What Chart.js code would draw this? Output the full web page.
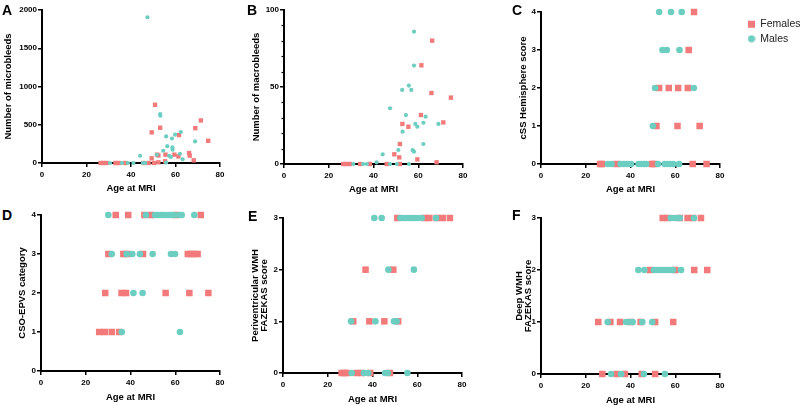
<!DOCTYPE html>
<html><head><meta charset="utf-8">
<script src="https://cdn.jsdelivr.net/npm/chart.js@4.4.0/dist/chart.umd.min.js"></script>
<style>
html,body{margin:0;padding:0;background:#fff;}
#wrap{position:relative;width:800px;height:405px;overflow:hidden;background:#fff;}
canvas{position:absolute;}
.lbl{position:absolute;font:bold 14px 'Liberation Sans',Arial,sans-serif;color:#000;line-height:1;}
</style></head><body>
<div id="wrap">
<canvas id="cA"></canvas><canvas id="cB"></canvas><canvas id="cC"></canvas>
<canvas id="cD"></canvas><canvas id="cE"></canvas><canvas id="cF"></canvas>
<canvas id="cL"></canvas>
<div class="lbl" style="left:2px;top:3px">A</div>
<div class="lbl" style="left:247px;top:3px">B</div>
<div class="lbl" style="left:512px;top:3px">C</div>
<div class="lbl" style="left:2px;top:208px">D</div>
<div class="lbl" style="left:248px;top:209px">E</div>
<div class="lbl" style="left:512px;top:208px">F</div>
</div>
<script>
// ---------- data ----------
const seriesNames = ['Females', 'Males'];
const xTicks = [0, 20, 40, 60, 80];
const xTitle = 'Age at MRI';

// A: microbleeds
const microTicks = [0, 500, 1000, 1500, 2000];
const microF = [[26.3,0],[27.5,0],[29.0,0],[33.0,0],[34.5,0],[37.4,0],[45.6,0],[47.9,0],[50.3,0],[52.3,9],[55.3,22],[49.3,61],[51.7,109],[52.3,99],[55.5,109],[59.5,109],[61.3,87],[66.1,130],[66.4,96],[68.2,35],[49.3,400],[53.1,461],[50.8,761],[61.6,365],[68.9,455],[71.4,556],[74.7,290]];
const microM = [[30.6,0],[35.9,0],[38.6,0],[41.1,0],[45.3,0],[46.3,0],[55.8,5],[44.1,95],[51.6,108],[54.5,160],[56.3,220],[57.2,92],[57.9,80],[58.6,204],[58.7,174],[62.0,121],[63.2,48],[55.8,347],[58.4,320],[59.8,370],[62.4,405],[53.1,640],[53.2,618],[47.4,1905],[68.8,282]];

// B: macrobleeds
const macroTicks = [0, 50, 100];
const macroMinor = [10, 20, 30, 40, 60, 70, 80, 90];
const macroF = [[26.5,0],[28.0,0],[29.5,0],[34.0,0],[38.4,0],[45.9,0],[51.8,0],[68.2,1.1],[59.6,3.0],[51.5,4.3],[49.3,6.3],[51.8,13.0],[52.9,26.0],[55.6,24.2],[61.2,31.8],[71.2,27.0],[74.6,43.1],[65.9,46.1],[61.4,64.1],[66.2,80.1]];
const macroM = [[31.0,0],[35.4,0],[37.0,0],[47.4,0],[50.4,0],[55.9,0],[41.4,1.1],[44.1,6.3],[51.1,9.1],[57.5,9.0],[58.1,8.0],[62.3,13.0],[53.0,21.0],[59.6,24.2],[58.7,26.0],[62.3,26.8],[69.0,26.0],[63.3,30.7],[54.5,31.8],[47.4,36.2],[52.8,48.1],[56.9,48.1],[55.8,50.9],[58.1,63.9],[58.1,85.9]];

// C: cSS hemisphere score
const cssTicks = [0, 1, 2, 3, 4];
const cssF = [[26.4,0],[27.3,0],[33.8,0],[49.5,0],[50.5,0],[67.8,0],[74.0,0],[51.6,1],[61.0,1],[70.9,1],[52.8,2],[57.1,2],[61.3,2],[65.6,2],[66.0,3],[68.4,4]];
const cssM = [[29.9,0],[31.5,0],[35.6,0],[37.1,0],[38.7,0],[40.3,0],[43.6,0],[44.8,0],[46.0,0],[47.0,0],[52.3,0],[55.3,0],[56.5,0],[57.8,0],[59.1,0],[61.7,0],[50.0,1],[51.0,2],[68.3,2],[54.3,3],[56.2,3],[61.9,3],[52.8,4],[58.1,4],[62.9,4]];

// D: CSO-EPVS category
const epvsTicks = [0, 1, 2, 3, 4];
const epvsF = [[26.0,1],[28.5,1],[31.6,1],[34.9,1],[28.7,2],[36.0,2],[38.0,2],[55.7,2],[66.3,2],[74.8,2],[30.1,3],[36.8,3],[38.6,3],[45.6,3],[65.6,3],[67.0,3],[68.5,3],[70.0,3],[33.4,4],[39.0,4],[46.2,4],[49.2,4],[60.3,4],[71.4,4]];
const epvsM = [[36.1,1],[62.1,1],[41.3,2],[45.4,2],[31.6,3],[38.3,3],[40.8,3],[44.2,3],[49.9,3],[58.1,3],[59.9,3],[30.1,4],[46.9,4],[51.0,4],[52.3,4],[53.5,4],[54.7,4],[55.8,4],[57.0,4],[58.2,4],[59.3,4],[61.6,4],[62.9,4],[68.5,4]];

// E: periventricular WMH Fazekas
const pvTicks = [0, 1, 2, 3];
const pvF = [[26.2,0],[27.5,0],[28.5,0],[32.9,0],[35.2,0],[39.0,0],[47.8,0],[31.4,1],[38.6,1],[45.3,1],[51.5,1],[36.9,2],[49.3,2],[51.1,3],[63.5,3],[65.4,3],[68.7,3],[71.4,3],[74.6,3]];
const pvM = [[30.7,0],[36.2,0],[38.1,0],[45.6,0],[46.8,0],[55.6,0],[30.4,1],[41.3,1],[49.6,1],[50.8,1],[47.1,2],[58.5,2],[40.8,3],[44.1,3],[52.5,3],[53.8,3],[55.1,3],[56.4,3],[57.7,3],[59.0,3],[60.3,3],[62.0,3],[68.4,3]];

// F: deep WMH Fazekas
const dwTicks = [0, 1, 2, 3];
const dwF = [[27.4,0],[33.8,0],[37.5,0],[45.0,0],[51.0,0],[25.6,1],[31.0,1],[35.3,1],[40.0,1],[44.5,1],[51.0,1],[59.1,1],[48.7,2],[60.0,2],[68.5,2],[74.3,2],[54.4,3],[56.5,3],[62.0,3],[65.5,3],[68.0,3],[71.5,3]];
const dwM = [[31.3,0],[35.8,0],[46.0,0],[55.4,0],[29.8,1],[38.0,1],[39.5,1],[41.0,1],[45.3,1],[49.7,1],[43.5,2],[46.2,2],[50.5,2],[51.7,2],[52.9,2],[54.1,2],[55.3,2],[56.5,2],[57.7,2],[58.9,2],[62.6,2],[58.0,3],[59.3,3],[60.6,3],[62.0,3],[68.4,3]];

// ---------- styling ----------
const RED = 'rgb(243,122,122)';
const TEAL = 'rgb(108,206,192)';
const NARROW = "'Liberation Sans Narrow', 'Liberation Sans', Arial, sans-serif";
const SANS = "'Liberation Sans', Arial, sans-serif";

const minorTickPlugin = {
  id: 'minorTicks',
  afterDraw(chart, args, opts) {
    if (!opts.values) return;
    const y = chart.scales.y, ctx = chart.ctx;
    ctx.save();
    ctx.strokeStyle = '#000'; ctx.lineWidth = 1.2;
    opts.values.forEach(v => {
      const py = Math.round(y.getPixelForValue(v)) + 0.5;
      ctx.beginPath(); ctx.moveTo(y.right - 2.5, py); ctx.lineTo(y.right, py); ctx.stroke();
    });
    ctx.restore();
  }
};

function toPts(arr) { return arr.map(p => ({x: p[0], y: p[1]})); }
const plain = v => String(v);

function panel(id, L, T, W, H, o) {
  const cv = document.getElementById(id);
  cv.width = W; cv.height = H;
  cv.style.left = L + 'px'; cv.style.top = T + 'px';
  cv.style.width = W + 'px'; cv.style.height = H + 'px';
  const axisCommon = {
    grid: {display: true, drawOnChartArea: false, drawTicks: true, tickLength: 4, color: '#000', lineWidth: 1.5},
    border: {display: true, color: '#000', width: 2}
  };
  return new Chart(cv, {
    type: 'scatter',
    data: {datasets: [
      {label: seriesNames[0], data: toPts(o.f), pointStyle: 'rect', pointRadius: o.rs, pointHoverRadius: o.rs, backgroundColor: RED, borderWidth: 0, order: 1, clip: false},
      {label: seriesNames[1], data: toPts(o.m), pointStyle: 'circle', pointRadius: o.rc, pointHoverRadius: o.rc, backgroundColor: TEAL, borderWidth: 0, order: 0, clip: false}
    ]},
    options: {
      responsive: false, animation: false, devicePixelRatio: 1, events: [],
      layout: {padding: {top: o.pt, right: 8, left: 0, bottom: 0}},
      plugins: {legend: {display: false}, tooltip: {enabled: false}, minorTicks: {values: o.minor || null}},
      scales: {
        x: Object.assign({}, axisCommon, {
          type: 'linear', min: 0, max: 80,
          afterBuildTicks: s => { s.ticks = xTicks.map(v => ({value: v})); },
          afterFit: s => { s.height = o.xh; },
          ticks: {color: '#000', padding: 3, autoSkip: false, maxRotation: 0, callback: plain, font: {family: NARROW, size: 8, weight: 'bold'}},
          title: {display: true, text: xTitle, color: '#000', padding: {top: 0, bottom: 0}, font: {family: NARROW, size: 9.5, weight: 'bold', lineHeight: 1.2}}
        }),
        y: Object.assign({}, axisCommon, {
          type: 'linear', min: 0, max: o.yt[o.yt.length - 1],
          afterBuildTicks: s => { s.ticks = o.yt.map(v => ({value: v})); },
          afterFit: s => { s.width = o.yw; },
          ticks: {color: '#000', padding: 1, autoSkip: false, callback: plain, font: {family: NARROW, size: 8, weight: 'bold'}},
          title: {display: true, text: o.title, color: '#000', padding: {top: o.tp, bottom: 0}, font: {family: SANS, size: 9.5, weight: 'bold', lineHeight: o.lh || 1.2}}
        })
      }
    },
    plugins: [minorTickPlugin]
  });
}

panel('cA', 0, 0, 228, 194, {f: microF, m: microM, yt: microTicks, title: 'Number of microbleeds', yw: 42, xh: 31, pt: 10, tp: 2.3, rs: 3.1, rc: 2.1});
panel('cB', 248, 0, 223, 195, {f: macroF, m: macroM, yt: macroTicks, minor: macroMinor, title: 'Number of macrobleeds', yw: 36, xh: 31, pt: 10, tp: 2.3, rs: 3.1, rc: 2.1});
panel('cC', 515, 0, 213, 195, {f: cssF, m: cssM, yt: cssTicks, title: 'cSS Hemisphere score', yw: 26, xh: 31, pt: 12, tp: 2.8, rs: 4.6, rc: 3.3});
panel('cD', 14, 205, 214, 198, {f: epvsF, m: epvsM, yt: epvsTicks, title: 'CSO-EPVS category', yw: 27, xh: 32, pt: 10, tp: 2.3, rs: 4.6, rc: 3.3});
panel('cE', 248, 208, 222, 197, {f: pvF, m: pvM, yt: pvTicks, title: ['Periventricular WMH', 'FAZEKAS score'], lh: 0.95, yw: 35, xh: 32, pt: 10, tp: 3.2, rs: 4.6, rc: 3.3});
panel('cF', 512, 208, 216, 198, {f: dwF, m: dwM, yt: dwTicks, title: ['Deep WMH', 'FAZEKAS score'], lh: 0.95, yw: 29, xh: 32, pt: 10, tp: 2.5, rs: 4.6, rc: 3.3});

// ---------- legend ----------
const dot = document.createElement('canvas');
dot.width = 8; dot.height = 8;
(function(){ const c = dot.getContext('2d'); c.fillStyle = TEAL; c.beginPath(); c.arc(4, 4, 3.6, 0, Math.PI * 2); c.fill(); })();
(function(){
  const cv = document.getElementById('cL');
  const L = 744, T = 15, W = 56, H = 40;
  cv.width = W; cv.height = H;
  cv.style.left = L + 'px'; cv.style.top = T + 'px';
  cv.style.width = W + 'px'; cv.style.height = H + 'px';
  new Chart(cv, {
    type: 'scatter',
    data: {datasets: [
      {label: seriesNames[0], data: [], pointStyle: 'rect', backgroundColor: RED, borderColor: RED, borderWidth: 0},
      {label: seriesNames[1], data: [], pointStyle: dot, backgroundColor: TEAL, borderColor: TEAL, borderWidth: 0}
    ]},
    options: {
      responsive: false, animation: false, devicePixelRatio: 1, events: [],
      layout: {padding: 0},
      scales: {x: {display: false}, y: {display: false}},
      plugins: {
        tooltip: {enabled: false},
        legend: {display: true, position: 'left', align: 'start', maxWidth: 60,
          labels: {usePointStyle: true, boxWidth: 7, boxHeight: 7, padding: 4, color: '#222', font: {family: SANS, size: 10.5}}}
      }
    }
  });
})();
</script>
</body></html>
